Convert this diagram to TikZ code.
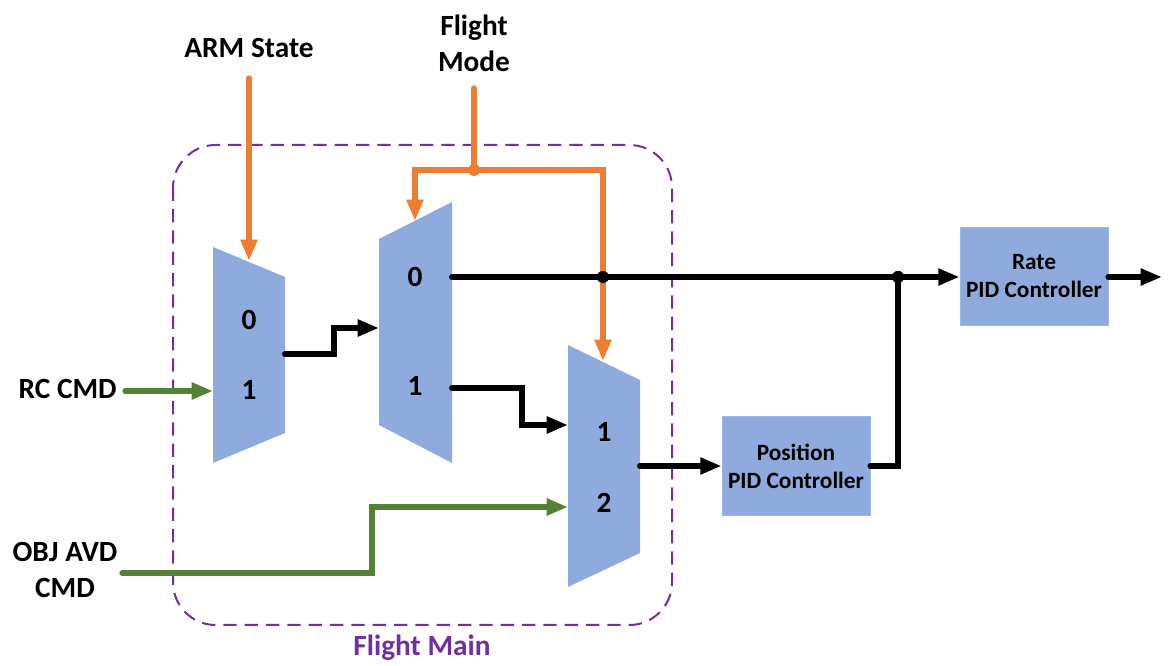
\documentclass[tikz,border=0pt]{standalone}
\usepackage{fontspec}
\setmainfont{Carlito}
\usetikzlibrary{arrows.meta}
\definecolor{muxblue}{HTML}{8FAADC}
\definecolor{sigorange}{HTML}{ED7D31}
\definecolor{siggreen}{HTML}{548235}
\definecolor{framepurple}{HTML}{7030A0}
\tikzset{
  mux/.style={fill=muxblue, draw=none},
  lbl/.style={font=\fontsize{22}{27}\selectfont\bfseries, inner sep=0pt, align=center},
  boxtxt/.style={font=\fontsize{17.5}{21}\selectfont\bfseries, align=center},
  pidbox/.style={boxtxt, fill=muxblue, draw=muxblue!85!white, line width=0.6pt,
    minimum width=111pt, minimum height=74pt, inner sep=0pt},
  blk/.style={draw=black, line width=4.5pt, line cap=round},
  org/.style={draw=sigorange, line width=4pt, line cap=round},
  grn/.style={draw=siggreen, line width=4pt, line cap=round},
  tip/.style={-{Triangle[length=16pt,width=12pt]}},
  jdot/.style={circle, inner sep=0pt, minimum size=9pt},
  frame/.style={draw=framepurple, line width=1.5pt, dash pattern=on 10pt off 6pt, rounded corners=32pt}
}
\begin{document}
\begin{tikzpicture}[x=0.75pt,y=-0.75pt]
\useasboundingbox (0,0) rectangle (1172,666);

% frame
\draw[frame] (173,145) rectangle (672,625);
\node[lbl, text=framepurple, anchor=base] (fmain) at (422,655) {Flight Main};

% multiplexers
\path[mux] (213,247) -- (285,277) -- (285,433) -- (213,463) -- cycle;
\path[mux] (379,239) -- (452,202) -- (452,463) -- (379,425) -- cycle;
\path[mux] (568,345) -- (640,380) -- (640,553) -- (568,587) -- cycle;

\node[lbl] (m1i0) at (249,320) {0};
\node[lbl] (m1i1) at (249,390) {1};
\node[lbl] (m2i0) at (415,277) {0};
\node[lbl] (m2i1) at (415,386) {1};
\node[lbl] (m3i1) at (604,432) {1};
\node[lbl] (m3i2) at (604,503) {2};

% ports
\coordinate (m1in1) at (213,391);
\coordinate (m1out) at (285,354);
\coordinate (m1sel) at (249,261);
\coordinate (m2in) at (379,328);
\coordinate (m2o0) at (452,277);
\coordinate (m2o1) at (452,388);
\coordinate (m2sel) at (415,221);
\coordinate (m3in1) at (568,425);
\coordinate (m3in2) at (568,507);
\coordinate (m3out) at (640,466);
\coordinate (m3sel) at (603,361);

% boxes
\node[pidbox] (pos) at (796,466) {Position\\PID Controller};
\node[pidbox] (rate) at (1034,276.5) {Rate\\PID Controller};

% labels
\node[lbl, anchor=base] (arm) at (249,58) {ARM State};
\node[lbl] (fmode) at (474,43) {Flight\\Mode};
\node[lbl, anchor=base east] (rc) at (117,399) {RC CMD};
\node[lbl] (obj) at (65,570) {OBJ AVD\\CMD};

\coordinate (armtop) at (249,78);
\coordinate (fmtop) at (474,88);
\coordinate (objstart) at (122,573);
\coordinate (rcstart) at (125,391);
\coordinate (outend) at (1162,277);

% junctions
\node[jdot, fill=sigorange] (jf) at (474,170) {};
\node[jdot, fill=black] (jx) at (603,277) {};
\node[jdot, fill=black] (jr) at (898,277) {};

% orange select lines
\draw[org, tip] (armtop) -- (m1sel);
\draw[org] (fmtop) -- (jf.center);
\draw[org, tip] (jf.center) -| (m2sel);
\draw[org, tip] (jf.center) -| (m3sel);

% black data lines
\draw[blk, tip] (m1out) -- (334,354) -- (334,328) -- (m2in);
\draw[blk, tip] (m2o0) -- (m2o0 -| rate.west);
\draw[blk, tip] (m2o1) -- (522,388) -- (522,425) -- (m3in1);
\draw[blk, tip] (m3out) -- (m3out -| pos.west);
\draw[blk] (pos.east |- m3out) -| (jr.center);
\draw[blk, tip] (rate.east |- outend) -- (outend);

% green inputs
\draw[grn, tip] (rcstart) -- (m1in1);
\draw[grn, tip] (objstart) -- (372,573) -- (372,507) -- (m3in2);

\node[jdot, fill=black] at (jx) {};
\node[jdot, fill=black] at (jr) {};
\end{tikzpicture}
\end{document}
